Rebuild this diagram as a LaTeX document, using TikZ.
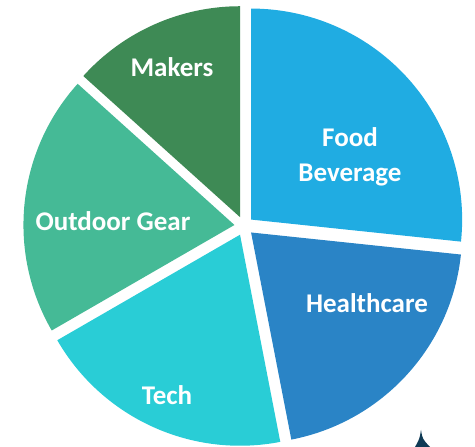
\documentclass[tikz,border=0pt]{standalone}
\usepackage{fontspec}
\setmainfont{Carlito}
\usetikzlibrary{calc}
\definecolor{cFood}{HTML}{20ACE2}
\definecolor{cMakers}{HTML}{3E8A55}
\definecolor{cOutdoor}{HTML}{45BA96}
\definecolor{cTech}{HTML}{29CDD6}
\definecolor{cHealth}{HTML}{2A84C6}
\definecolor{cSpike}{HTML}{0F3A55}
\newcommand\myslice[4]{%
  \pgfmathsetmacro\midang{(#1+#2)/2}%
  \coordinate (#4) at ($(c)+(\midang:9.6)$);
  \fill[#3] (#4) -- +(#1:211) arc[start angle=#1, end angle=#2, radius=211] -- cycle;}
\begin{document}
\begin{tikzpicture}[x=1pt,y=1pt,
  lbl/.style={text=white, font=\fontsize{27}{32}\selectfont\bfseries, anchor=base, inner sep=0pt}]
\useasboundingbox (0,0) rectangle (475,447);
\coordinate (c) at (244,221);
\myslice{-6}{90}{cFood}{food}
\myslice{90}{138}{cMakers}{makers}
\myslice{138}{210}{cOutdoor}{outdoor}
\myslice{210}{281}{cTech}{tech}
\myslice{281}{354}{cHealth}{health}
\node[lbl] (lmakers) at (172,370) {Makers};
\node[lbl] (lfood) at (350,300) {Food};
\node[lbl] (lbev) at (350,265) {Beverage};
\node[lbl] (lout) at (113,216) {Outdoor Gear};
\node[lbl] (lhealth) at (367,134) {Healthcare};
\node[lbl] (ltech) at (167,42) {Tech};
\fill[cSpike] (421,17) .. controls (419.5,8) .. (415,0) -- (430,0) .. controls (422.5,8) .. (421,17) -- cycle;
\end{tikzpicture}
\end{document}
